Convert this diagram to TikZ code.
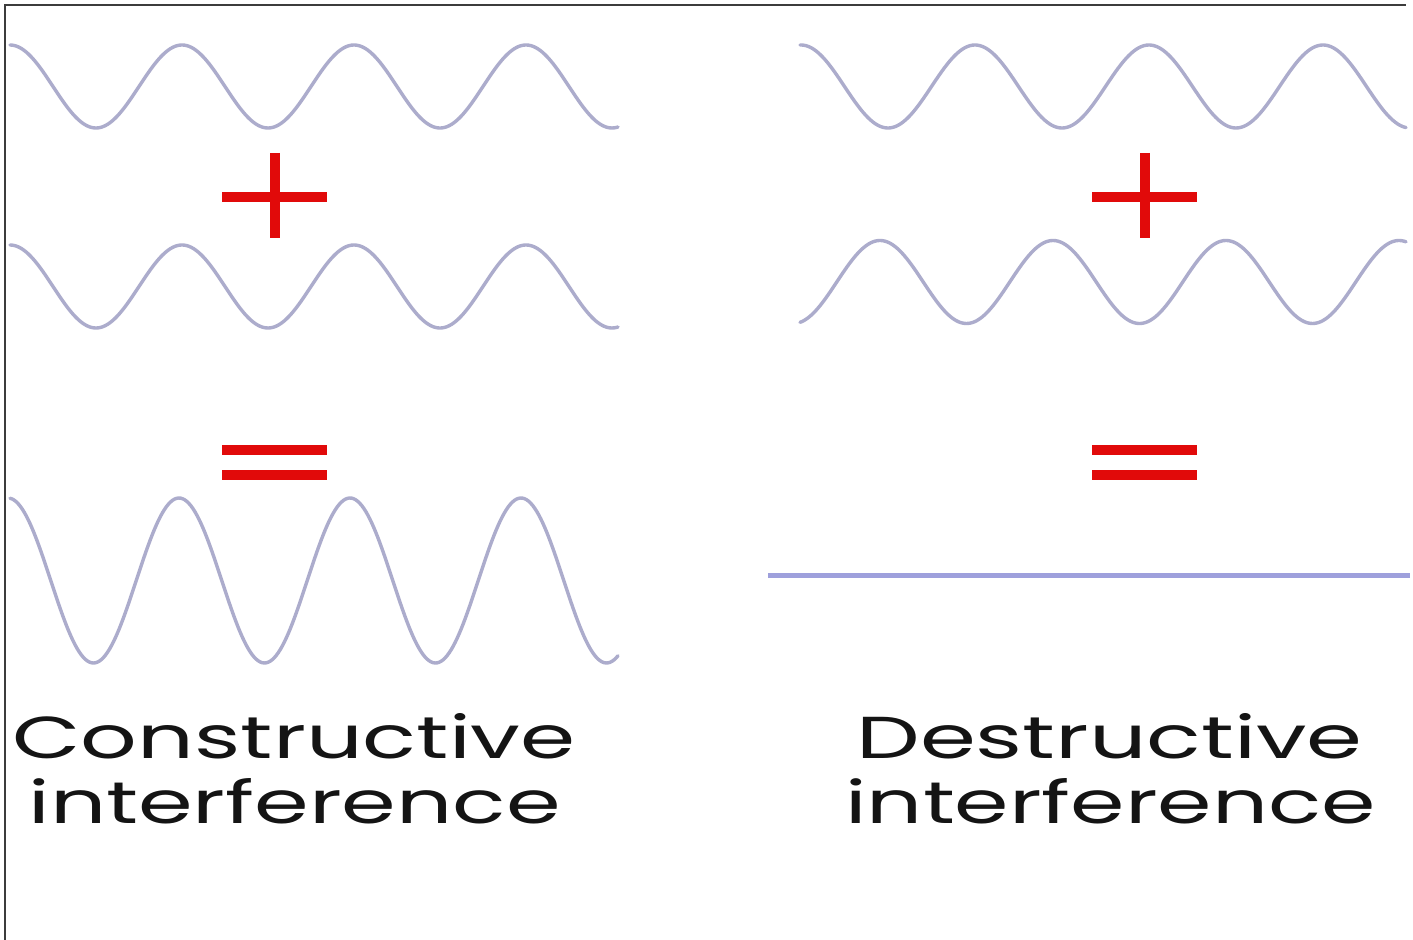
\documentclass[tikz,border=0pt]{standalone}
\usepackage{fontspec}
\setmainfont{Poppins}
\usepackage{graphicx}
\definecolor{wavecol}{RGB}{172,172,204}
\definecolor{flatcol}{RGB}{158,160,220}
\definecolor{signred}{RGB}{225,10,10}
\definecolor{framecol}{RGB}{60,60,60}
\definecolor{txtcol}{RGB}{20,20,20}
\tikzset{
  wave/.style={draw=wavecol, line width=1.7pt, line join=round, line cap=round},
  sign/.style={draw=signred, line width=5pt},
  lbl/.style={inner sep=0pt, text=txtcol, anchor=base west},
}
\begin{document}
\begin{tikzpicture}[x=0.5pt,y=-0.5pt]
\useasboundingbox (0,0) rectangle (1413,940);
\fill[white] (0,0) rectangle (1413,940);
% frame
\draw[framecol, line width=1.2pt] (5,940) -- (5,5) -- (1406,5);
% left panel waves
\draw[wave] plot[domain=10:618, samples=300] (\x, {86.5 - 41.5*cos((\x-10)/172*360)});
\draw[wave] plot[domain=10:618, samples=300] (\x, {286.5 - 41.5*cos((\x-10)/172*360)});
\draw[wave] plot[domain=10:618, samples=300] (\x, {580.5 - 82.5*cos((\x-8)/171*360)});
% right panel waves
\draw[wave] plot[domain=800:1406, samples=300] (\x, {86.5 - 41.5*cos((\x-975)/174*360)});
\draw[wave] plot[domain=800:1406, samples=300] (\x, {282 - 41.5*cos((\x-880)/173*360)});
\draw[draw=flatcol, line width=2.5pt] (768,576) -- (1410,576);
% plus signs
\draw[sign] (222,197) -- (327,197) (275,153) -- (275,238);
\draw[sign] (1092,197) -- (1197,197) (1145,153) -- (1145,238);
% equal signs
\draw[sign] (222,450) -- (327,450) (222,475) -- (327,475);
\draw[sign] (1092,450) -- (1197,450) (1092,475) -- (1197,475);
% labels
\node[lbl] (c1) at (12,758) {\resizebox{281.5pt}{22.5pt}{Constructive}};
\node[lbl] (c2) at (28,823) {\resizebox{266pt}{22.5pt}{interference}};
\node[lbl] (d1) at (856,758) {\resizebox{253pt}{22.5pt}{Destructive}};
\node[lbl] (d2) at (845,823) {\resizebox{265pt}{22.5pt}{interference}};
\end{tikzpicture}
\end{document}
